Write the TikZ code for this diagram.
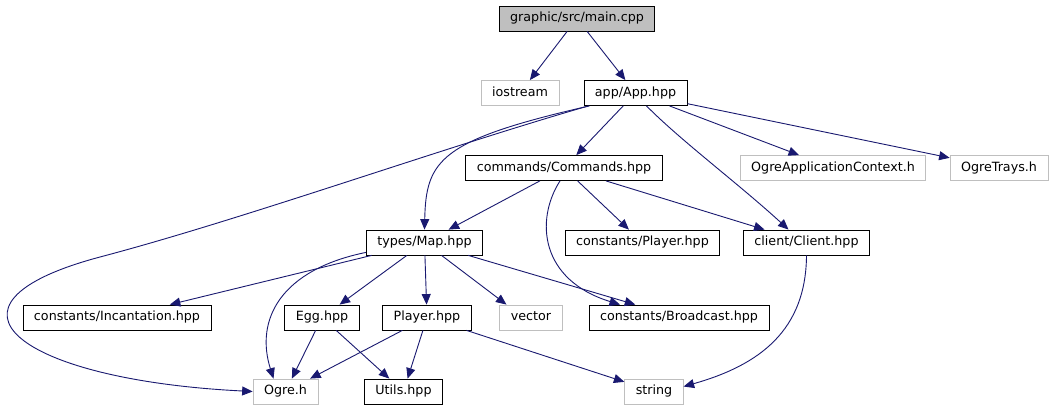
\documentclass[tikz,border=0pt]{standalone}
\usepackage{fontspec}
\setmainfont{DejaVu Sans}
\usetikzlibrary{arrows.meta}
\definecolor{edgeblue}{HTML}{191970}
\definecolor{sysgray}{HTML}{BFBFBF}

\begin{document}
\begin{tikzpicture}[x=1pt, y=-1pt, font=\fontsize{12.7}{15}\selectfont]
        % Styles
        \tikzstyle{file} = [rectangle, draw=black, line width=0.8pt, inner xsep=11pt, inner ysep=0pt, minimum height=25pt, text height=9.5pt, text depth=3pt]
        \tikzstyle{sysfile} = [file, draw=sysgray]
        \tikzstyle{line} = [draw=edgeblue, line width=0.9pt, -{Triangle[length=10.5pt, width=9pt]}]

        \useasboundingbox[fill=white] (0,0) rectangle (1060,411);

        % Nodes
        \node [file, fill=sysgray] (main) at (577,18.5) {graphic/src/main.cpp};
        \node [sysfile] (iostream) at (520,93) {iostream};
        \node [file, right of=iostream, node distance=115.5pt] (app) {app/App.hpp};
        \node [file] (commands) at (564,168) {commands/Commands.hpp};
        \node [sysfile, right of=commands, node distance=269pt] (appctx) {OgreApplicationContext.h};
        \node [sysfile, right of=appctx, node distance=166pt] (trays) {OgreTrays.h};
        \node [file] (map) at (424.5,242.5) {types/Map.hpp};
        \node [file, right of=map, node distance=218pt] (cplayer) {constants/Player.hpp};
        \node [file, right of=cplayer, node distance=164pt] (client) {client/Client.hpp};
        \node [file] (incant) at (117,317.5) {constants/Incantation.hpp};
        \node [file, right of=incant, node distance=205pt] (egg) {Egg.hpp};
        \node [file, right of=egg, node distance=105pt] (player) {Player.hpp};
        \node [sysfile, right of=player, node distance=104pt] (vector) {vector};
        \node [file, right of=vector, node distance=148pt] (broadcast) {constants/Broadcast.hpp};
        \node [sysfile] (ogre) at (285.5,391.5) {Ogre.h};
        \node [file, right of=ogre, node distance=118pt] (utils) {Utils.hpp};
        \node [sysfile, right of=utils, node distance=250.5pt] (string) {string};

        % Edges
        \path [line] (main) -- (iostream);
        \path [line] (main) -- (app);
        \path [line] ([xshift=5pt]app.south west) .. controls (439,149) and (244,219) .. (100,257) .. controls (-80,305) and (20,380) .. (ogre.west);
        \path [line] ([xshift=6pt]app.south west) .. controls (440,140) and (426,160) .. (map.north);
        \path [line] (app) -- (commands);
        \path [line] ([xshift=11pt]app.south) .. controls (680,140) and (740,185) .. ([xshift=-18pt]client.north);
        \path [line] (app) -- (appctx);
        \path [line] (app) -- (trays);
        \path [line] (commands) -- (map);
        \path [line] ([xshift=-4pt]commands.south) .. controls (535,220) and (540,280) .. ([xshift=-59pt]broadcast.north);
        \path [line] (commands) -- (cplayer);
        \path [line] (commands) -- (client);
        \path [line] ([yshift=3pt]map.south west) .. controls (280,270) and (255,320) .. ([xshift=-12pt]ogre.north);
        \path [line] (map) -- (incant);
        \path [line] (map) -- (egg);
        \path [line] (map) -- (player);
        \path [line] (map) -- ([xshift=7pt]vector.north west);
        \path [line] (map) -- (broadcast);
        \path [line] (client.south) .. controls (806,330) and (760,365) .. ([yshift=5pt]string.east);
        \path [line] (egg) -- (ogre);
        \path [line] (egg) -- (utils);
        \path [line] (player) -- (ogre);
        \path [line] (player) -- (utils);
        \path [line] (player) -- (string);
\end{tikzpicture}
\end{document}
